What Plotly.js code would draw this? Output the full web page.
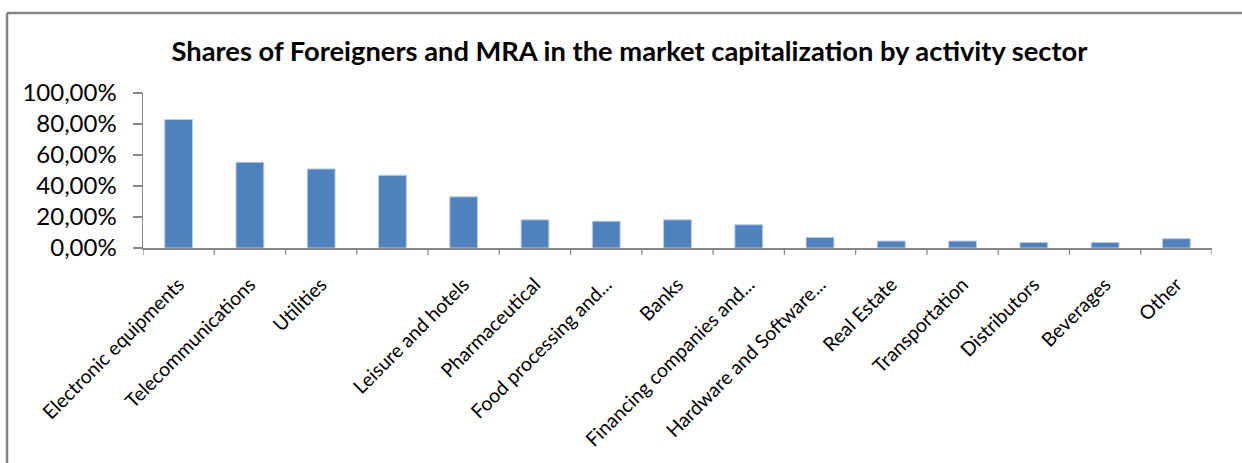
<!DOCTYPE html>
<html>
<head>
<meta charset="utf-8">
<script src="https://cdn.plot.ly/plotly-3.0.1.min.js"></script>
<style>
  html, body { margin: 0; padding: 0; background: #fff; }
  #chart { width: 1242px; height: 463px; }
</style>
</head>
<body>
<div id="chart"></div>
<script>
// The reference shows 15 category slots; the 4th slot has no label
const categoryLabels = [
  "Electronic equipments",
  "Telecommunications",
  "Utilities",
  "",
  "Leisure and hotels",
  "Pharmaceutical",
  "Food processing and...",
  "Banks",
  "Financing companies and...",
  "Hardware and Software...",
  "Real Estate",
  "Transportation",
  "Distributors",
  "Beverages",
  "Other"
];
const shares = [0.829, 0.553, 0.510, 0.469, 0.330, 0.182, 0.173, 0.182, 0.150, 0.068, 0.045, 0.045, 0.036, 0.036, 0.060];
const yTickValues = [0, 0.2, 0.4, 0.6, 0.8, 1.0];

const W = 1242, H = 463;
const L = 143, R = 30, T = 93, B = 215;
const pw = W - L - R, ph = H - T - B;
const px = x => (x - L) / pw;
const py = y => (H - B - y) / ph;

const idx = shares.map((_, i) => i);
const FONT = 'Lato, "Open Sans", sans-serif';

const trace = {
  type: 'bar',
  x: idx,
  y: shares,
  marker: { color: '#4F81BD', line: { color: '#B9CDE5', width: 1 } },
  hoverinfo: 'skip'
};

const layout = {
  width: W, height: H,
  margin: { l: L, r: R, t: T, b: B, pad: 0 },
  paper_bgcolor: '#ffffff',
  plot_bgcolor: '#ffffff',
  showlegend: false,
  bargap: 0.61,
  separators: ',.',
  font: { family: FONT, color: '#000000' },
  title: {
    text: 'Shares of Foreigners and MRA in the market capitalization by activity sector',
    font: { family: FONT, size: 27.3, color: '#000000', weight: 'bold' },
    x: 629.5 / W, xanchor: 'center', xref: 'container',
    y: 1 - 51 / H, yanchor: 'middle', yref: 'container'
  },
  xaxis: {
    type: 'linear',
    range: [-0.5, shares.length - 0.5],
    tickmode: 'array',
    tickvals: idx,
    ticktext: categoryLabels,
    tickangle: -45,
    ticks: '',
    ticklabelstandoff: 16,
    showgrid: false,
    zeroline: false,
    showline: true,
    linecolor: '#868686',
    linewidth: 1.5,
    tickfont: { family: FONT, size: 19.5, color: '#000000' },
    fixedrange: true
  },
  yaxis: {
    range: [0, 1],
    tickmode: 'array',
    tickvals: yTickValues,
    tickformat: '.2%',
    ticks: 'outside',
    ticklen: 9,
    tickwidth: 1.2,
    tickcolor: '#868686',
    showgrid: false,
    zeroline: false,
    showline: true,
    linecolor: '#868686',
    linewidth: 1.5,
    ticklabelstandoff: 11,
    tickfont: { family: FONT, size: 24, color: '#000000' },
    fixedrange: true
  },
  shapes: [
    // outer chart border (top and left visible)
    { type: 'line', xref: 'paper', yref: 'paper', x0: px(7), x1: px(1250), y0: py(13), y1: py(13), line: { color: '#868686', width: 2.5 } },
    { type: 'line', xref: 'paper', yref: 'paper', x0: px(7), x1: px(7), y0: py(13), y1: py(470), line: { color: '#868686', width: 2.5 } }
  ].concat(
    // category boundary ticks on the x axis
    Array.from({ length: shares.length + 1 }, (_, k) => ({
      type: 'line', xref: 'x', yref: 'paper',
      x0: k - 0.5, x1: k - 0.5, y0: 0, y1: -7 / ph,
      line: { color: '#868686', width: 1.2 }
    }))
  )
};

Plotly.newPlot('chart', [trace], layout, { displayModeBar: false, staticPlot: true });
</script>
</body>
</html>
